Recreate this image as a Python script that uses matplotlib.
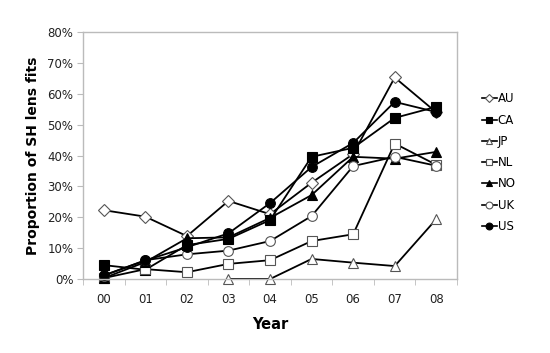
import numpy as np
import matplotlib
matplotlib.use("Agg")
import matplotlib.pyplot as plt
from matplotlib.ticker import FixedLocator, PercentFormatter

# values (percent); NaN = no point
years = ['00', '01', '02', '03', '04', '05', '06', '07', '08']
au = [22.3, 20.2, 13.9, 25.3, 21.0, 31.2, 40.5, 65.3, 54.0]
ca = [4.5, 3.0, 11.0, 13.0, 19.1, 39.6, 42.5, 52.2, 55.8]
jp = [np.nan, np.nan, np.nan, 0.0, 0.0, 6.5, 5.3, 4.2, 19.4]
nl = [0.3, 3.2, 2.2, 4.9, 6.1, 12.3, 14.5, 43.9, 37.0]
no = [0.3, 5.5, 13.2, 13.5, 19.8, 27.2, 39.6, 39.0, 41.2]
uk = [1.1, 6.1, 8.0, 9.2, 12.3, 20.4, 36.6, 39.6, 36.7]
us = [1.2, 6.0, 10.3, 14.8, 24.6, 36.3, 44.1, 57.4, 54.1]

series = [('AU', au, 'D', 'white'),
          ('CA', ca, 's', 'black'),
          ('JP', jp, '^', 'white'),
          ('NL', nl, 's', 'white'),
          ('NO', no, '^', 'black'),
          ('UK', uk, 'o', 'white'),
          ('US', us, 'o', 'black')]

plt.rcParams['font.family'] = ['DejaVu Sans']

fig = plt.figure(figsize=(5.5, 3.53), dpi=100)
ax = fig.add_axes([0.151, 0.2096, 0.68, 0.6994])

x = np.arange(len(years))
for name, vals, mk, fc in series:
    ms = 6.2 if mk == 'D' else 7
    ax.plot(x, vals, color='black', lw=1.3, marker=mk, markersize=ms,
            markerfacecolor=fc, markeredgecolor='black' if fc == 'black' else '#555555',
            markeredgewidth=0.8, label=name, clip_on=False)

ax.set_xlim(-0.5, 8.5)
ax.set_ylim(0, 80)
ax.yaxis.set_major_locator(FixedLocator(range(0, 81, 10)))
ax.yaxis.set_major_formatter(PercentFormatter(decimals=0))
ax.set_xticks(x)
ax.set_xticklabels(years)
ax.xaxis.set_minor_locator(FixedLocator(np.arange(-0.5, 9, 1)))
ax.tick_params(axis='x', which='major', length=0, pad=10, labelsize=8.5, colors='#222222')
ax.tick_params(axis='x', which='minor', length=4, color='#bbbbbb', direction='out')
ax.tick_params(axis='y', which='major', length=4, color='#bbbbbb', labelsize=8.5, pad=3)
for lab in ax.get_yticklabels():
    lab.set_color('#222222')

for s in ax.spines.values():
    s.set_color('#bbbbbb')
    s.set_linewidth(1)

ax.set_xlabel('Year', fontsize=10.5, fontweight='bold', labelpad=8)
ax.set_ylabel('Proportion of SH lens fits', fontsize=10, fontweight='bold', labelpad=5)

handles, labels = ax.get_legend_handles_labels()
leg = fig.legend(handles, labels, loc='upper left', bbox_to_anchor=(0.865, 0.755),
                 frameon=False, fontsize=8.5, handlelength=1.3, handletextpad=0.05,
                 labelspacing=0.7, markerscale=0.7, borderpad=0)
for h in leg.legend_handles:
    h.set_linewidth(1.2)

fig.savefig('out.png', dpi=100)
